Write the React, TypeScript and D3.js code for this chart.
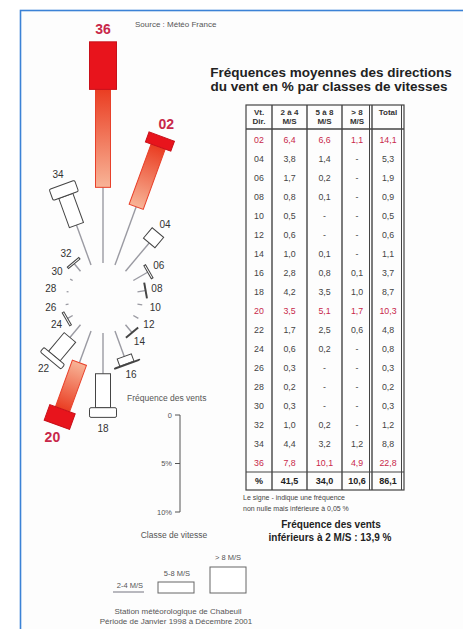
import * as d3 from "d3";
import React from "react";

// wind directions (tens of degrees) and frequency per speed class, in %
const directions = ["02", "04", "06", "08", "10", "12", "14", "16", "18", "20", "22", "24", "26", "28", "30", "32", "34", "36"];
const speed2to4 = [6.4, 3.8, 1.7, 0.8, 0.5, 0.6, 1.0, 2.8, 4.2, 3.5, 1.7, 0.6, 0.3, 0.2, 0.3, 1.0, 4.4, 7.8];
const speed5to8: (number | null)[] = [6.6, 1.4, 0.2, 0.1, null, null, 0.1, 0.8, 3.5, 5.1, 2.5, 0.2, null, null, null, 0.2, 3.2, 10.1];
const speedOver8: (number | null)[] = [1.1, null, null, null, null, null, null, 0.1, 1.0, 1.7, 0.6, null, null, null, null, null, 1.2, 4.9];
const totals = [14.1, 5.3, 1.9, 0.9, 0.5, 0.6, 1.1, 3.7, 8.7, 10.3, 4.8, 0.8, 0.3, 0.2, 0.3, 1.2, 8.8, 22.8];
const columnTotals = [41.5, 34.0, 10.6, 86.1];
const highlighted = ["02", "20", "36"];
const scaleTicks = [0, 5, 10];
const calmFrequency = 13.9;

const headerLine1 = ["Vt.", "2 à 4", "5 à 8", "> 8", "Total"];
const headerLine2 = ["Dir.", "M/S", "M/S", "M/S", ""];

const RED = "#e8141c";
const TEXT_RED = "#c8284a";
const FONT = "Liberation Sans, Arial, sans-serif";

const fmt = (v: number | null) => (v == null ? "-" : v.toFixed(1).replace(".", ","));

export default function App(): React.ReactElement {
  const width = 463;
  const height = 629;

  // rose geometry
  const cx = 103;
  const cy = 298;
  const inner = 35;
  const len = d3.scaleLinear().domain([0, 10]).range([0, 97]);

  // table geometry
  const colEdges = [246, 272, 307, 342, 372, 404];
  const tableTop = 105;
  const headerBottom = 129;
  const row = d3
    .scaleLinear()
    .domain([0, directions.length - 1])
    .range([140, 463]);
  const sepY = 472;
  const totalRowY = 481;
  const tableBottom = 490;
  const colMid = colEdges.slice(0, -1).map((e, i) => (e + colEdges[i + 1]) / 2);

  return (
    <svg
      height={height}
      style={{ left: 0, position: "absolute", top: 0 }}
      width={width}
      fontFamily={FONT}
    >
      <defs>
        <linearGradient id="midGrad" x1="0" x2="0" y1="1" y2="0">
          <stop offset="0%" stopColor="#f8b497" />
          <stop offset="100%" stopColor="#ea3d22" />
        </linearGradient>
      </defs>
      <rect fill="#ffffff" height={height} width={width} />
      <rect
        fill="#fdfdfd"
        height={700}
        stroke="#3b82d6"
        strokeWidth={1.6}
        width={500}
        x={20.5}
        y={10.5}
      />

      <text fill="#555" fontSize={8} x={135} y={27}>
        Source : Météo France
      </text>

      {/* wind rose */}
      {directions.map((d, i) => {
        const angle = +d * 10;
        const hot = highlighted.includes(d);
        const l1 = len(speed2to4[i]);
        const l2 = len(speed5to8[i] ?? 0);
        const l3 = len(speedOver8[i] ?? 0);
        const r1 = inner + l1;
        const r2 = r1 + l2;
        const r3 = r2 + l3;
        const end = r3;
        const lr = Math.max(end + (hot ? 13 : 11), 53);
        const rad = (angle * Math.PI) / 180;
        const lx = cx + lr * Math.sin(rad);
        const ly = cy - lr * Math.cos(rad);
        return (
          <g key={d}>
            <g transform={`translate(${cx},${cy}) rotate(${angle})`}>
              <line stroke="#9a9aa2" strokeWidth={1.4} x1={0} x2={0} y1={-inner} y2={-r1} />
              {speed5to8[i] != null && (
                <rect
                  fill={hot ? "url(#midGrad)" : "#fff"}
                  height={l2}
                  stroke={hot ? "#e8402a" : "#444"}
                  strokeWidth={1}
                  width={15}
                  x={-7.5}
                  y={-r2}
                />
              )}
              {speedOver8[i] != null && (
                <rect
                  fill={hot ? RED : "#fff"}
                  height={l3}
                  rx={hot ? 0 : 1.5}
                  stroke={hot ? "#c8101a" : "#444"}
                  strokeWidth={1}
                  width={27}
                  x={-13.5}
                  y={-r3}
                />
              )}
            </g>
            <text
              dominantBaseline="central"
              fill={hot ? TEXT_RED : "#333"}
              fontSize={hot ? 14 : 10}
              fontWeight={hot ? "bold" : "normal"}
              textAnchor="middle"
              x={lx}
              y={ly}
            >
              {d}
            </text>
          </g>
        );
      })}

      {/* frequency scale */}
      <text fill="#555" fontSize={8.5} x={127} y={401}>
        Fréquence des vents
      </text>
      <line stroke="#555" strokeWidth={1} x1={180} x2={180} y1={415 + len(0)} y2={415 + len(10)} />
      {scaleTicks.map((t) => (
        <g key={t} transform={`translate(180,${415 + len(t)})`}>
          <line stroke="#555" x1={-5} x2={0} />
          <text dominantBaseline="central" fill="#555" fontSize={7.5} textAnchor="end" x={-8}>
            {t === 0 ? "0" : `${t}%`}
          </text>
        </g>
      ))}

      {/* speed class legend */}
      <text fill="#555" fontSize={8.5} textAnchor="middle" x={174} y={538}>
        Classe de vitesse
      </text>
      <text fill="#555" fontSize={7.5} textAnchor="middle" x={130} y={588}>
        2-4 M/S
      </text>
      <line stroke="#9a9aa2" strokeWidth={1.4} x1={113} x2={144} y1={592} y2={592} />
      <text fill="#555" fontSize={7.5} textAnchor="middle" x={177} y={576}>
        5-8 M/S
      </text>
      <rect fill="#fff" height={11} stroke="#666" width={36} x={158} y={582} />
      <text fill="#555" fontSize={7.5} textAnchor="middle" x={228} y={560}>
        {"> 8 M/S"}
      </text>
      <rect fill="#fff" height={26} stroke="#666" width={36} x={210} y={567} />

      <text fill="#555" fontSize={8} textAnchor="middle" x={178} y={614}>
        Station météorologique de Chabeuil
      </text>
      <text fill="#555" fontSize={8} textAnchor="middle" x={176} y={624}>
        Période de Janvier 1998 à Décembre 2001
      </text>

      {/* table title */}
      <text fill="#222" fontSize={13.5} fontWeight="bold" textAnchor="middle" x={331} y={77}>
        Fréquences moyennes des directions
      </text>
      <text fill="#222" fontSize={13.5} fontWeight="bold" textAnchor="middle" x={329} y={91}>
        du vent en % par classes de vitesses
      </text>

      {/* table frame */}
      <g stroke="#444" fill="none">
        <rect height={tableBottom - tableTop} strokeWidth={1.2} width={colEdges[5] - colEdges[0]} x={colEdges[0]} y={tableTop} />
        {colEdges.slice(1, -1).map((x) => (
          <line key={x} strokeWidth={1.4} x1={x} x2={x} y1={tableTop} y2={tableBottom} />
        ))}
        <line strokeWidth={1} x1={colEdges[4] - 2.5} x2={colEdges[4] - 2.5} y1={tableTop} y2={tableBottom} />
        <line strokeWidth={1} x1={colEdges[5] - 2.5} x2={colEdges[5] - 2.5} y1={tableTop} y2={tableBottom} />
        <line strokeWidth={1.6} x1={colEdges[0]} x2={colEdges[5]} y1={headerBottom} y2={headerBottom} />
        <line strokeWidth={1.2} x1={colEdges[0]} x2={colEdges[5]} y1={sepY} y2={sepY} />
      </g>
      {headerLine1.map((h, i) => (
        <text fill="#333" fontSize={8} fontWeight="bold" key={`h1-${i}`} textAnchor="middle" x={colMid[i]} y={115}>
          {h}
        </text>
      ))}
      {headerLine2.map((h, i) => (
        <text fill="#333" fontSize={8} fontWeight="bold" key={`h2-${i}`} textAnchor="middle" x={colMid[i]} y={124}>
          {h}
        </text>
      ))}
      {directions.map((d, i) => {
        const hot = highlighted.includes(d);
        const cells = [d, fmt(speed2to4[i]), fmt(speed5to8[i]), fmt(speedOver8[i]), fmt(totals[i])];
        return cells.map((c, j) => (
          <text
            dominantBaseline="central"
            fill={hot ? TEXT_RED : "#444"}
            fontSize={8.8}
            key={`${d}-${j}`}
            textAnchor="middle"
            x={colMid[j]}
            y={row(i)}
          >
            {c}
          </text>
        ));
      })}
      {["%", ...columnTotals.map(fmt)].map((c, j) => (
        <text
          dominantBaseline="central"
          fill="#222"
          fontSize={9}
          fontWeight="bold"
          key={`tot-${j}`}
          textAnchor="middle"
          x={colMid[j]}
          y={totalRowY}
        >
          {c}
        </text>
      ))}

      <text fill="#444" fontSize={7} x={243} y={500}>
        Le signe - indique une fréquence
      </text>
      <text fill="#444" fontSize={7} x={243} y={511}>
        non nulle mais inférieure à 0,05 %
      </text>
      <text fill="#222" fontSize={10} fontWeight="bold" textAnchor="middle" x={331} y={528}>
        Fréquence des vents
      </text>
      <text fill="#222" fontSize={10} fontWeight="bold" textAnchor="middle" x={330} y={541}>
        {`inférieurs à 2 M/S : ${fmt(calmFrequency)} %`}
      </text>
    </svg>
  );
}
